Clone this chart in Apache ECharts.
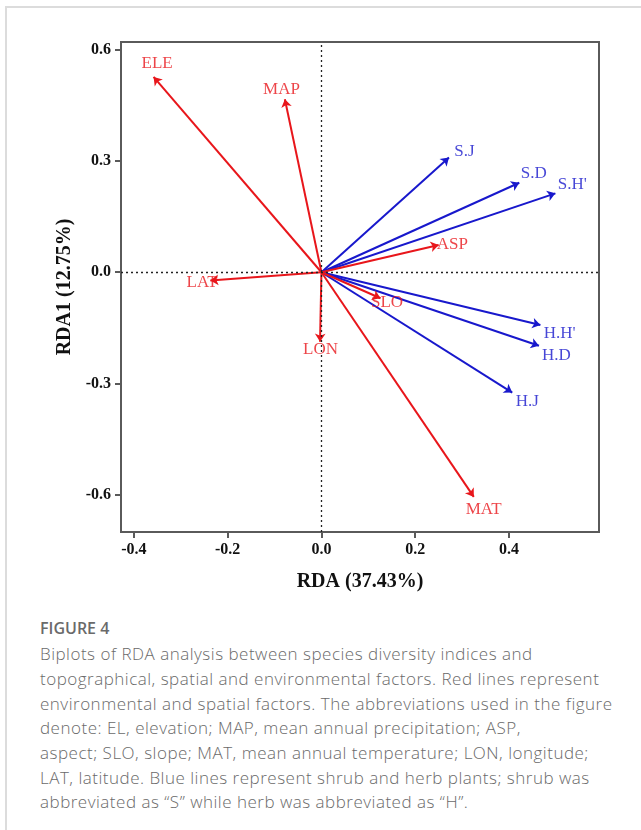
<!DOCTYPE html>
<html>
<head>
<meta charset="utf-8">
<script src="https://cdn.jsdelivr.net/npm/echarts@6/dist/echarts.min.js"></script>
<style>
  html, body { margin: 0; padding: 0; background: #fff; }
  #wrap { position: relative; width: 641px; height: 830px; overflow: hidden; }
  #card { position: absolute; left: 5px; top: 6px; right: -10px; bottom: -10px;
          border-top: 2px solid #dcdcdc; border-left: 2px solid #dcdcdc; }
  #chart { position: absolute; left: 0; top: 0; width: 641px; height: 600px; }
  .cap { position: absolute; left: 40px; font-family: "Open Sans", sans-serif;
         color: #6a6a6a; white-space: nowrap; }
  .cap.t { font-weight: 600; font-size: 16px; }
  .cap.l { font-weight: 300; font-size: 17px; letter-spacing: 0.5px; }
</style>
</head>
<body>
<div id="wrap">
  <div id="card"></div>
  <div id="chart"></div>
  <div class="cap t" style="top:617px">FIGURE 4</div>
  <div class="cap l" style="top:642px">Biplots of RDA analysis between species diversity indices and</div>
  <div class="cap l" style="top:667px">topographical, spatial and environmental factors. Red lines represent</div>
  <div class="cap l" style="top:692px">environmental and spatial factors. The abbreviations used in the figure</div>
  <div class="cap l" style="top:716px">denote: EL, elevation; MAP, mean annual precipitation; ASP,</div>
  <div class="cap l" style="top:741px">aspect; SLO, slope; MAT, mean annual temperature; LON, longitude;</div>
  <div class="cap l" style="top:766px">LAT, latitude. Blue lines represent shrub and herb plants; shrub was</div>
  <div class="cap l" style="top:790px">abbreviated as “S” while herb was abbreviated as “H”.</div>
</div>
<script>
// Environmental / spatial factors (red)
const envNames = ['ELE', 'MAP', 'LAT', 'ASP', 'SLO', 'LON', 'MAT'];
const envX = [-0.358, -0.078, -0.237, 0.250, 0.126, -0.003, 0.325];
const envY = [0.526, 0.466, -0.022, 0.0735, -0.070, -0.187, -0.605];
const envLabelX = [-0.3505, -0.0853, -0.2545, 0.279, 0.140, -0.002, 0.346];
const envLabelY = [0.562, 0.492, -0.027, 0.0753, -0.082, -0.207, -0.6395];

// Diversity indices (blue)
const bioNames = ['S.J', 'S.D', "S.H'", "H.H'", 'H.D', 'H.J'];
const bioX = [0.272, 0.422, 0.499, 0.467, 0.464, 0.407];
const bioY = [0.309, 0.241, 0.2125, -0.142, -0.198, -0.324];
const bioLabelX = [0.305, 0.453, 0.535, 0.508, 0.501, 0.439];
const bioLabelY = [0.3245, 0.2645, 0.235, -0.164, -0.224, -0.348];

const xTicks = [-0.4, -0.2, 0.0, 0.2, 0.4];
const yTicks = [-0.6, -0.3, 0.0, 0.3, 0.6];

const RED = '#e8161b';
const BLUE = '#1818cc';
const AX = '#5a5a5a';
const SERIF = '"Liberation Serif", "Times New Roman", serif';

const arrows = (xs, ys) => xs.map((x, i) => ({ coords: [[0, 0], [x, ys[i]]] }));
const labels = (xs, ys, ns) => xs.map((x, i) => [x, ys[i], ns[i]]);

const chart = echarts.init(document.getElementById('chart'), null, { renderer: 'canvas' });
chart.setOption({
  animation: false,
  grid: { left: 121, right: 42, top: 42, height: 490, show: true, borderColor: AX, borderWidth: 2, backgroundColor: 'transparent' },
  xAxis: {
    type: 'value', min: -0.4275, max: 0.592,
    name: 'RDA (37.43%)', nameLocation: 'middle', nameGap: 40,
    nameTextStyle: { fontFamily: SERIF, fontWeight: 'bold', fontSize: 20, color: '#111' },
    axisLine: { show: true, onZero: false, lineStyle: { color: AX, width: 2 } },
    axisTick: { show: true, inside: false, length: 6, lineStyle: { color: AX, width: 2 }, customValues: xTicks },
    axisLabel: { customValues: xTicks, margin: 10, fontFamily: SERIF, fontWeight: 'bold', fontSize: 16, color: '#111',
                 formatter: v => v.toFixed(1) },
    splitLine: { show: false }
  },
  yAxis: {
    type: 'value', min: -0.6995, max: 0.620,
    name: 'RDA1 (12.75%)', nameLocation: 'middle', nameGap: 43,
    nameTextStyle: { fontFamily: SERIF, fontWeight: 'bold', fontSize: 20, color: '#111' },
    axisLine: { show: true, onZero: false, lineStyle: { color: AX, width: 2 } },
    axisTick: { show: true, inside: false, length: 6, lineStyle: { color: AX, width: 2 }, customValues: yTicks },
    axisLabel: { customValues: yTicks, margin: 10, fontFamily: SERIF, fontWeight: 'bold', fontSize: 16, color: '#111',
                 formatter: v => v.toFixed(1) },
    splitLine: { show: false }
  },
  series: [
    {
      type: 'scatter', data: [], silent: true,
      markLine: {
        silent: true, symbol: 'none', animation: false,
        label: { show: false },
        lineStyle: { type: [2, 3], color: '#222', width: 1.3 },
        data: [{ xAxis: 0 }, { yAxis: 0 }]
      }
    },
    {
      type: 'lines', coordinateSystem: 'cartesian2d', silent: true,
      symbol: ['none', 'arrow'], symbolSize: 8,
      lineStyle: { color: BLUE, width: 2, opacity: 1 },
      data: arrows(bioX, bioY)
    },
    {
      type: 'lines', coordinateSystem: 'cartesian2d', silent: true,
      symbol: ['none', 'arrow'], symbolSize: 8,
      lineStyle: { color: RED, width: 2, opacity: 1 },
      data: arrows(envX, envY)
    },
    {
      type: 'scatter', silent: true, symbolSize: 1, itemStyle: { color: 'rgba(0,0,0,0)' },
      label: { show: true, position: 'inside', formatter: p => p.value[2],
               fontFamily: SERIF, fontSize: 17, color: BLUE },
      data: labels(bioLabelX, bioLabelY, bioNames)
    },
    {
      type: 'scatter', silent: true, symbolSize: 1, itemStyle: { color: 'rgba(0,0,0,0)' },
      label: { show: true, position: 'inside', formatter: p => p.value[2],
               fontFamily: SERIF, fontSize: 17, color: RED },
      data: labels(envLabelX, envLabelY, envNames)
    }
  ]
});
</script>
</body>
</html>
